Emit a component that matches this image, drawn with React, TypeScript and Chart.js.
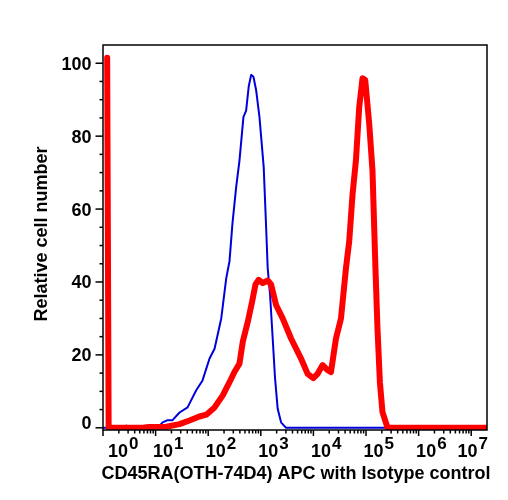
import React, { useEffect, useRef } from "react";
import { Chart, registerables } from "chart.js";

Chart.register(...registerables);

// ---- Data (fluorescence intensity, relative cell number) ----
const redX = [1.2, 1.28, 5.7, 7.7, 16, 28.5, 44, 68, 92, 132, 189, 254, 315, 393, 454, 564, 684, 791, 912, 1086, 1352, 1567, 1950, 2606, 3758, 5821, 7762, 9954, 12023, 14962, 18621, 21577, 26853, 33420, 41591, 47973, 55463, 64269, 74302, 85901, 96605, 115080, 132740, 149620, 165200, 183650, 205590, 255860, 19952623];
const redY = [101.5, 0, 0, 0.2, 0.3, 1, 2, 3.1, 3.6, 5.6, 8.9, 12.5, 15.3, 17.6, 23.6, 29, 34.6, 39.3, 40.6, 39.7, 40.4, 39.3, 33.7, 30, 24.5, 19, 14.8, 13.6, 14.8, 17.2, 15.8, 15.3, 24.5, 30, 43.8, 51.2, 64, 73.3, 88, 95.9, 95.4, 83.4, 70.6, 45.7, 27.3, 12.5, 4.3, 0.1, 0];

const blueX = [1, 2, 2.8, 3.5, 5.7, 6.8, 11.9, 13.6, 16.9, 21, 28.5, 40.5, 59.2, 78, 106, 132, 177, 220, 254, 289, 340, 393, 468, 526, 589, 655, 724, 815, 942, 1040, 1135, 1262, 1352, 1500, 1683, 1866, 2094, 2427, 3020, 19952623];
const blueY = [0, 0, 0.6, 0.1, 0.2, 0.6, 0.6, 1.5, 2.1, 2.1, 4.2, 5.6, 10.3, 13, 19, 21.7, 30, 41, 45.7, 56, 66, 73.3, 85.3, 87, 93.6, 96.8, 96.3, 92.6, 85.3, 78, 71.5, 55, 43.8, 36.5, 24.5, 13.5, 5.2, 1.5, 0, 0];

// ---- Axis definitions ----
const yTickLabels = [0, 20, 40, 60, 80, 100];
const xDecades = [0, 1, 2, 3, 4, 5, 6, 7];
const xTitle = "CD45RA(OTH-74D4) APC with Isotype control";
const yTitle = "Relative cell number";

const X_MIN = 1;
const X_MAX = Math.pow(10, 7.3);
const Y_MIN = -0.6;
const Y_MAX = 105;

const FONT = '"Liberation Sans", Arial, Helvetica, sans-serif';

const decorPlugin = {
  id: "decor",
  afterDraw(chart: any) {
    const { ctx, chartArea: a } = chart;
    const xs = chart.scales.x;
    const ys = chart.scales.y;
    ctx.save();
    ctx.strokeStyle = "#000";
    ctx.fillStyle = "#000";
    ctx.lineWidth = 1.5;
    ctx.strokeRect(a.left, a.top, a.right - a.left, a.bottom - a.top);

    // y ticks
    for (let v = 0; v <= 100; v += 5) {
      const py = ys.getPixelForValue(v);
      const len = v % 20 === 0 ? 7.5 : 3.5;
      ctx.beginPath();
      ctx.moveTo(a.left - len, py);
      ctx.lineTo(a.left, py);
      ctx.stroke();
    }
    // x ticks
    for (const k of xDecades) {
      for (let m = 1; m <= 9; m++) {
        const val = m * Math.pow(10, k);
        if (val < X_MIN || val > X_MAX) continue;
        const px = xs.getPixelForValue(val);
        const len = m === 1 ? 6 : 3.5;
        ctx.beginPath();
        ctx.moveTo(px, a.bottom);
        ctx.lineTo(px, a.bottom + len);
        ctx.stroke();
      }
    }

    // y tick labels
    ctx.font = `bold 18px ${FONT}`;
    ctx.textAlign = "right";
    ctx.textBaseline = "alphabetic";
    for (const v of yTickLabels) {
      const py = ys.getPixelForValue(v);
      const dy = v === 0 ? -5 : 0;
      ctx.fillText(String(v), a.left - 11.5, py + 6.5 + dy);
    }

    // x tick labels: 10^k
    ctx.textAlign = "left";
    for (const k of xDecades) {
      const px = xs.getPixelForValue(Math.pow(10, k));
      ctx.font = `bold 18px ${FONT}`;
      const wBase = ctx.measureText("10").width;
      ctx.font = `bold 17px ${FONT}`;
      const wExp = ctx.measureText(String(k)).width;
      const w = wBase + 1 + wExp;
      let left = px - 2.5;
      if (left < a.left + 5) left = a.left + 5;
      if (left + w > a.right + 1) left = a.right + 1 - w;
      ctx.font = `bold 18px ${FONT}`;
      ctx.fillText("10", left, 457);
      ctx.font = `bold 17px ${FONT}`;
      ctx.fillText(String(k), left + wBase + 1, 449);
    }

    // axis titles
    ctx.font = `bold 18px ${FONT}`;
    ctx.textAlign = "center";
    ctx.fillText(xTitle, (a.left + a.right) / 2 + 1, 479);
    ctx.save();
    ctx.translate(47, 234);
    ctx.rotate(-Math.PI / 2);
    ctx.textAlign = "center";
    ctx.textBaseline = "alphabetic";
    ctx.fillText(yTitle, 0, 0);
    ctx.restore();

    ctx.restore();
  },
};

export default function App() {
  const canvasRef = useRef<HTMLCanvasElement | null>(null);

  useEffect(() => {
    const canvas = canvasRef.current;
    if (!canvas) return;
    const chart = new Chart(canvas, {
      type: "line",
      data: {
        datasets: [
          {
            label: "CD45RA(OTH-74D4) APC",
            data: redX.map((x, i) => ({ x, y: redY[i] })),
            borderColor: "rgb(255,0,0)",
            backgroundColor: "rgb(255,0,0)",
            borderWidth: 6,
            pointRadius: 0,
            tension: 0,
            fill: false,
            borderJoinStyle: "round",
            borderCapStyle: "round",
            order: 0,
          },
          {
            label: "Isotype control",
            data: blueX.map((x, i) => ({ x, y: blueY[i] })),
            borderColor: "rgb(0,0,220)",
            backgroundColor: "rgb(0,0,220)",
            borderWidth: 2,
            pointRadius: 0,
            tension: 0,
            fill: false,
            borderJoinStyle: "round",
            order: 1,
          },
        ],
      },
      options: {
        responsive: false,
        animation: false,
        devicePixelRatio: 1,
        layout: { padding: { left: 103, top: 45, right: 21, bottom: 70 } },
        plugins: {
          legend: { display: false },
          tooltip: { enabled: false },
          title: { display: false },
        },
        scales: {
          x: {
            type: "logarithmic",
            min: X_MIN,
            max: X_MAX,
            display: false,
          },
          y: {
            type: "linear",
            min: Y_MIN,
            max: Y_MAX,
            display: false,
          },
        },
      } as any,
      plugins: [decorPlugin],
    });
    return () => chart.destroy();
  }, []);

  return (
    <div style={{ position: "fixed", left: 0, top: 0, width: 508, height: 500, background: "#fff" }}>
      <canvas ref={canvasRef} width={508} height={500} style={{ display: "block" }} />
    </div>
  );
}
